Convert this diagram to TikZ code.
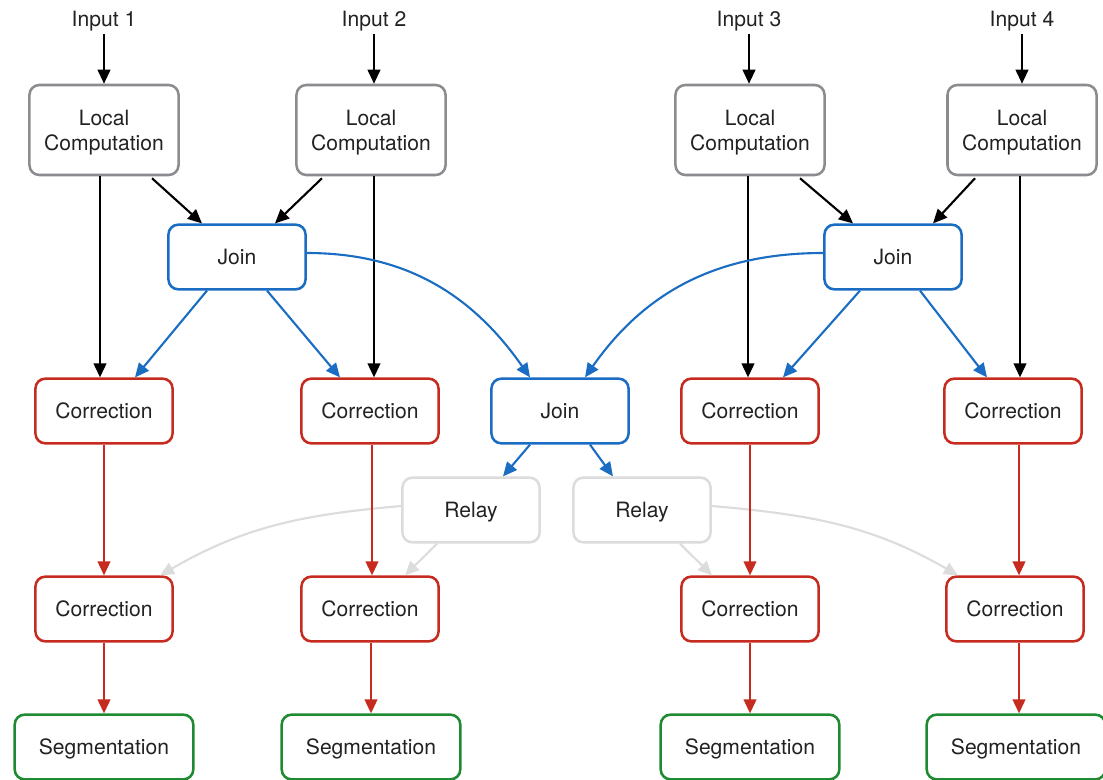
\documentclass[tikz,border=0pt]{standalone}
\usepackage{fontspec}
\setmainfont{TeX Gyre Heros}
\usetikzlibrary{arrows.meta, positioning, calc}

\definecolor{lcgray}{HTML}{8C8C90}
\definecolor{joinblue}{HTML}{1A6DC2}
\definecolor{corrred}{HTML}{C62B1F}
\definecolor{seggreen}{HTML}{208A32}
\definecolor{relaygray}{HTML}{DCDCDC}
\definecolor{txt}{HTML}{222222}

\begin{document}
\begin{tikzpicture}[
  x=0.025cm, y=-0.025cm,
  box/.style={draw, rounded corners=7pt, fill=white, line width=1.8pt, align=center, font=\fontsize{15}{18}\selectfont, text=txt, text depth=0pt, inner sep=0pt, minimum width=97.5pt, minimum height=46pt},
  lcbox/.style={box, draw=lcgray, minimum width=106pt, minimum height=64pt},
  joinbox/.style={box, draw=joinblue},
  corrbox/.style={box, draw=corrred},
  relaybox/.style={box, draw=relaygray},
  segbox/.style={box, draw=seggreen, minimum width=127pt},
  inp/.style={font=\fontsize{15}{18}\selectfont, text=txt, text depth=0pt, inner sep=5pt},
  blk/.style={-{Triangle[length=10pt, width=9pt]}, line width=1.5pt, black},
  blu/.style={blk, joinblue},
  rarr/.style={blk, corrred},
  gry/.style={blk, relaygray}
]
\useasboundingbox (0,0) rectangle (1103,780);

% inputs and local computation
\node[inp] (in1) at (104,19) {Input 1};
\node[inp] (in2) at (374,19) {Input 2};
\node[inp] (in3) at (749,19) {Input 3};
\node[inp] (in4) at (1022,19) {Input 4};

\node[lcbox] (lc1) at (104,130) {Local\\Computation};
\node[lcbox] (lc2) at (371,130) {Local\\Computation};
\node[lcbox] (lc3) at (750,130) {Local\\Computation};
\node[lcbox] (lc4) at (1022,130) {Local\\Computation};

% joins
\node[joinbox] (jl) at (237,257) {Join};
\node[joinbox] (jr) at (893,257) {Join};
\node[joinbox] (jm) at (560,411) {Join};

% corrections
\node[corrbox] (c1a) at (104,411) {Correction};
\node[corrbox] (c1b) at (370,411) {Correction};
\node[corrbox] (c1c) at (750,411) {Correction};
\node[corrbox] (c1d) at (1013,411) {Correction};

\node[relaybox] (ra) at (471,510) {Relay};
\node[relaybox] (rb) at (642,510) {Relay};

\node[corrbox] (c2a) at (104,609) {Correction};
\node[corrbox] (c2b) at (370,609) {Correction};
\node[corrbox] (c2c) at (750,609) {Correction};
\node[corrbox] (c2d) at (1015,609) {Correction};

% segmentation
\node[segbox] (sa) at (104,747) {Segmentation};
\node[segbox] (sb) at (371,747) {Segmentation};
\node[segbox] (sc) at (750,747) {Segmentation};
\node[segbox] (sd) at (1016,747) {Segmentation};

% black arrows
\draw[blk] (in1.south) -- (in1 |- lc1.north);
\draw[blk] (in2.south) -- (in2 |- lc2.north);
\draw[blk] (in3.south) -- (in3 |- lc3.north);
\draw[blk] (in4.south) -- (in4 |- lc4.north);

\draw[blk] ($(lc1.south)+(48,2)$) -- ($(jl.north)+(-35,0)$);
\draw[blk] ($(lc2.south)+(-49,2)$) -- ($(jl.north)+(38,0)$);
\draw[blk] ($(lc3.south)+(50,2)$) -- ($(jr.north)+(-40,0)$);
\draw[blk] ($(lc4.south)+(-47,2)$) -- ($(jr.north)+(40,0)$);

\draw[blk] ($(lc1.south)+(-4,0)$) -- ($(c1a.north)+(-4,0)$);
\draw[blk] ($(lc2.south)+(3,0)$) -- ($(c1b.north)+(4,0)$);
\draw[blk] ($(lc3.south)+(-2,0)$) -- ($(c1c.north)+(-2,0)$);
\draw[blk] ($(lc4.south)+(-2,0)$) -- ($(c1d.north)+(7,0)$);

% blue arrows
\draw[blu] ($(jl.south)+(-30,0)$) -- ($(c1a.north)+(31,0)$);
\draw[blu] ($(jl.south)+(30,0)$) -- ($(c1b.north)+(-30,0)$);
\draw[blu] ($(jr.south)+(-33,0)$) -- ($(c1c.north)+(33,0)$);
\draw[blu] ($(jr.south)+(27,0)$) -- ($(c1d.north)+(-26,0)$);
\draw[blu] ($(jl.east)+(0,-4)$) to[out=0, in=125] ($(jm.north)+(-30,0)$);
\draw[blu] ($(jr.west)+(0,-4)$) to[out=180, in=55] ($(jm.north)+(25,0)$);
\draw[blu] ($(jm.south)+(-30,0)$) -- ($(ra.north)+(32,0)$);
\draw[blu] ($(jm.south)+(30,0)$) -- ($(rb.north)+(-29,0)$);

% grey relay arrows
\draw[gry] ($(ra.west)+(0,-4)$) to[out=185, in=30] ($(c2a.north)+(56,0)$);
\draw[gry] ($(ra.south)+(-34,0)$) -- ($(c2b.north)+(35,0)$);
\draw[gry] ($(rb.south)+(38,0)$) -- ($(c2c.north)+(-38,0)$);
\draw[gry] ($(rb.east)+(0,-4)$) to[out=-5, in=150] ($(c2d.north)+(-57,0)$);

% red arrows
\draw[rarr] (c1a) -- (c2a);
\draw[rarr] ($(c1b.south)+(2,0)$) -- ($(c2b.north)+(2,0)$);
\draw[rarr] (c1c) -- (c2c);
\draw[rarr] ($(c1d.south)+(6,0)$) -- ($(c2d.north)+(4,0)$);
\draw[rarr] (c2a) -- (sa);
\draw[rarr] ($(c2b.south)+(1,0)$) -- (sb.north);
\draw[rarr] (c2c) -- (sc);
\draw[rarr] ($(c2d.south)+(4,0)$) -- ($(sd.north)+(3,0)$);
\end{tikzpicture}
\end{document}
